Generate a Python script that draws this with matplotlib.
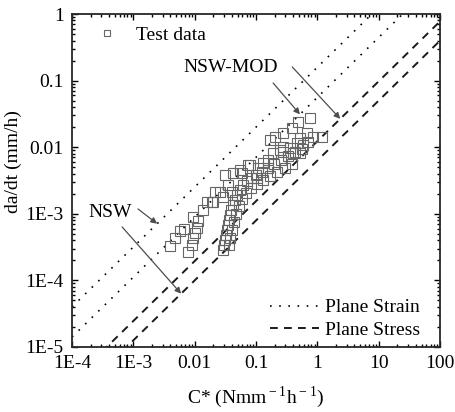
import numpy as np
import matplotlib
matplotlib.use("Agg")
from matplotlib import pyplot as plt
from matplotlib.lines import Line2D

plt.rcParams['font.family'] = ['Liberation Serif', 'DejaVu Serif']
plt.rcParams['mathtext.fontset'] = 'custom'
plt.rcParams['mathtext.rm'] = 'Liberation Serif'
plt.rcParams['font.size'] = 14

# Test data (C*, da/dt)
a_cstar = [0.0040, 0.0048, 0.0058, 0.0067, 0.0078, 0.0091, 0.0094, 0.0102, 0.0109,
           0.0094, 0.0114, 0.0137, 0.0159, 0.0200, 0.0215, 0.0290, 0.0407, 0.0423,
           0.0593, 0.0802, 0.104]
a_dadt = [3.3e-4, 4.3e-4, 5.5e-4, 5.9e-4, 2.7e-4, 3.4e-4, 4.3e-4, 5.2e-4, 6.1e-4,
          9.0e-4, 7.8e-4, 1.14e-3, 1.50e-3, 1.50e-3, 2.12e-3, 1.79e-3, 2.12e-3, 4.10e-3,
          4.10e-3, 5.41e-3, 3.45e-3]

b_cstar = [0.0290, 0.0302, 0.0313, 0.0325, 0.0338, 0.0351, 0.0364, 0.0378, 0.0393,
           0.0423, 0.0456, 0.0492, 0.0551, 0.0617, 0.0717, 0.0832, 0.100, 0.126,
           0.157, 0.197, 0.256, 0.334, 0.434, 0.565]
b_dadt = [2.86e-4, 3.40e-4, 4.05e-4, 4.81e-4, 5.71e-4, 6.79e-4, 8.07e-4, 9.6e-4, 1.14e-3,
          1.36e-3, 1.61e-3, 1.91e-3, 2.28e-3, 2.71e-3, 3.11e-3, 3.45e-3, 3.83e-3, 4.25e-3,
          4.88e-3, 5.60e-3, 6.43e-3, 7.38e-3, 8.47e-3, 9.4e-3]

c_cstar = [0.0364, 0.0378, 0.0407, 0.0440, 0.0473, 0.0530, 0.0593, 0.0689, 0.0832,
           0.104, 0.131, 0.170, 0.221, 0.298, 0.388]
c_dadt = [3.40e-4, 4.34e-4, 5.71e-4, 7.53e-4, 9.9e-4, 1.31e-3, 1.67e-3, 2.05e-3, 2.44e-3,
          2.80e-3, 3.22e-3, 3.70e-3, 4.25e-3, 4.88e-3, 5.60e-3]

d_cstar = [0.0192, 0.0259, 0.0313, 0.0351, 0.0551, 0.0743, 0.108, 0.131, 0.157, 0.190,
           0.247, 0.277, 0.360, 0.468, 0.586, 0.708, 0.524, 0.682, 0.853, 1.20,
           0.277, 0.403, 0.524, 0.170, 0.205, 0.277, 0.388, 0.486, 0.764]
d_dadt = [1.5e-3, 2.12e-3, 3.83e-3, 2.71e-3, 4.55e-3, 5.41e-3, 4.88e-3, 5.79e-3, 6.43e-3,
          8.18e-3, 9.08e-3, 1.01e-2, 9.73e-3, 1.16e-2, 1.08e-2, 1.20e-2, 1.37e-2, 1.63e-2,
          1.42e-2, 1.42e-2, 8.47e-3, 8.18e-3, 8.18e-3, 1.28e-2, 1.42e-2, 1.63e-2, 1.94e-2,
          2.39e-2, 2.74e-2]

# NSW / NSW-MOD prediction lines (end points at C* = 1E-4 and 100)
line_cstar = [1e-4, 100]
strain_upper = [4.0e-5, 10.0]
strain_lower = [1.41e-5, 3.53]
stress_upper = [3.09e-6, 0.776]
stress_lower = [1.58e-6, 0.398]

xtick_vals = [1e-4, 1e-3, 1e-2, 1e-1, 1, 10, 100]
xtick_labels = ['1E-4', '1E-3', '0.01', '0.1', '1', '10', '100']
ytick_vals = [1e-5, 1e-4, 1e-3, 1e-2, 1e-1, 1]
ytick_labels = ['1E-5', '1E-4', '1E-3', '0.01', '0.1', '1']


def on_line(line, x):
    # point on a straight log-log line
    ly = np.interp(np.log10(x), np.log10(line_cstar), np.log10(line))
    return (x, 10 ** ly)


fig = plt.figure(figsize=(4.56, 4.12), dpi=100)
ax = fig.add_axes([0.158, 0.158, 0.807, 0.808])
ax.set_xscale('log')
ax.set_yscale('log')

# prediction lines
dot = dict(color='k', lw=1.2, linestyle=(0, (1, 4.5)))
dash = dict(color='0.1', lw=1.4, linestyle=(0, (4, 3.2)))
ax.plot(line_cstar, strain_upper, **dot)
ax.plot(line_cstar, strain_lower, **dot)
ax.plot(line_cstar, stress_upper, **dash)
ax.plot(line_cstar, stress_lower, **dash)

# test data
sq = dict(marker='s', linestyle='none', mfc='none', mec='0.4', ms=7, mew=0.8)
for xs, ys in [(a_cstar, a_dadt), (b_cstar, b_dadt), (c_cstar, c_dadt), (d_cstar, d_dadt)]:
    ax.plot(xs, ys, **sq)

ax.set_xlim(1e-4, 100)
ax.set_ylim(1e-5, 1)
ax.set_xticks(xtick_vals, xtick_labels)
ax.set_yticks(ytick_vals, ytick_labels)
ax.xaxis.set_minor_formatter(matplotlib.ticker.NullFormatter())
ax.yaxis.set_minor_formatter(matplotlib.ticker.NullFormatter())
ax.tick_params(which='both', direction='in', top=True, right=True, width=1.0)
ax.tick_params(which='major', length=4.5, pad=6)
ax.tick_params(which='minor', length=2.5)
for s in ax.spines.values():
    s.set_linewidth(1.3)
    s.set_color('0.15')

ax.set_xlabel(r'C* (Nmm$^{\rm -1}$h$^{\rm -1}$)', labelpad=9)
ax.set_ylabel('da/dt (mm/h)')
ax.yaxis.set_label_coords(-0.135, 0.556)

# annotations
arr = dict(arrowstyle='-|>', color='0.3', lw=0.9, mutation_scale=9, shrinkA=0, shrinkB=0)
ax.text(0.038, 0.155, 'NSW-MOD', ha='center', va='center')
ax.annotate('', xy=on_line(strain_lower, 0.52), xytext=(0.19, 0.092), arrowprops=arr)
ax.annotate('', xy=on_line(stress_upper, 2.36), xytext=(0.39, 0.16), arrowprops=arr)
ax.text(4.17e-4, 1.03e-3, 'NSW', ha='center', va='center')
ax.annotate('', xy=on_line(strain_upper, 2.44e-3), xytext=(1.19e-3, 1.18e-3), arrowprops=arr)
ax.annotate('', xy=on_line(stress_lower, 6.0e-3), xytext=(6.55e-4, 6.34e-4), arrowprops=arr)

# legends
h_test = Line2D([], [], marker='s', linestyle='none', mfc='none', mec='0.4', ms=5, mew=0.8)
leg1 = ax.legend([h_test], ['Test data'], loc='upper left', bbox_to_anchor=(0.043, 0.963),
                 frameon=False, handlelength=2.0, handletextpad=0.5, borderpad=0, borderaxespad=0)
ax.add_artist(leg1)
h_strain = Line2D([], [], **dot)
h_stress = Line2D([], [], **dash)
ax.legend([h_strain, h_stress], ['Plane Strain', 'Plane Stress'], loc='lower left',
          bbox_to_anchor=(0.538, 0.024), frameon=False, handlelength=2.5, handletextpad=0.35,
          labelspacing=0.25, borderpad=0, borderaxespad=0)

fig.savefig('out.png', dpi=100)
